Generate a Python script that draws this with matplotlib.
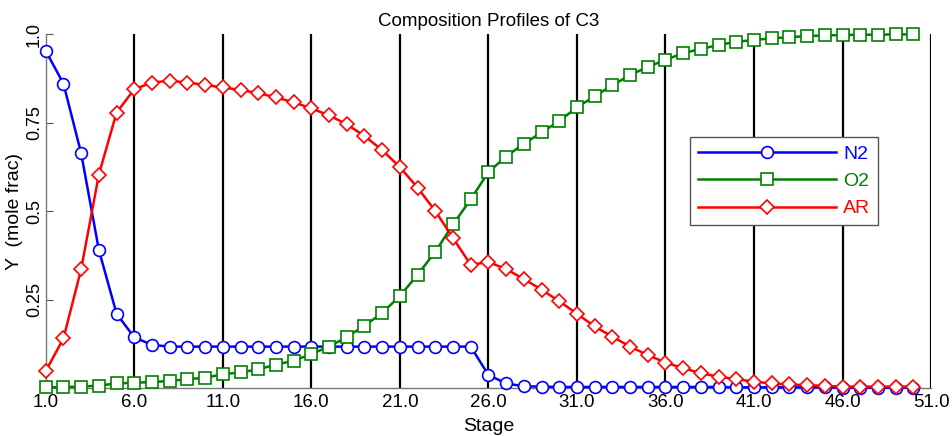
import numpy as np
import matplotlib
matplotlib.use('Agg')
import matplotlib.pyplot as plt

plt.rcParams['font.family'] = ['Liberation Sans', 'DejaVu Sans']

stages = list(range(1, 51))

n2 = [0.952, 0.86, 0.663, 0.39, 0.21, 0.143, 0.122, 0.117, 0.117, 0.117,
      0.117, 0.117, 0.117, 0.117, 0.117, 0.117, 0.117, 0.117, 0.117, 0.117,
      0.117, 0.117, 0.117, 0.117, 0.117, 0.037, 0.013, 0.005, 0.004, 0.003,
      0.003, 0.003, 0.003, 0.003, 0.003, 0.003, 0.003, 0.003, 0.003, 0.002,
      0.002, 0.002, 0.002, 0.002, 0.002, 0.001, 0.001, 0.001, 0.001, 0.001]

o2 = [0.002, 0.003, 0.004, 0.007, 0.013, 0.015, 0.017, 0.020, 0.025, 0.029,
      0.039, 0.044, 0.053, 0.066, 0.077, 0.096, 0.117, 0.144, 0.176, 0.212,
      0.26, 0.32, 0.385, 0.462, 0.533, 0.61, 0.654, 0.69, 0.722, 0.754,
      0.793, 0.824, 0.855, 0.884, 0.907, 0.927, 0.946, 0.958, 0.969, 0.978,
      0.983, 0.988, 0.991, 0.994, 0.996, 0.997, 0.998, 0.998, 0.999, 0.999]

ar = [0.048, 0.14, 0.336, 0.603, 0.778, 0.844, 0.863, 0.868, 0.863, 0.856,
      0.849, 0.842, 0.833, 0.821, 0.807, 0.79, 0.770, 0.745, 0.712, 0.672,
      0.624, 0.566, 0.500, 0.424, 0.348, 0.356, 0.336, 0.308, 0.278, 0.245,
      0.21, 0.174, 0.145, 0.117, 0.093, 0.072, 0.056, 0.042, 0.032, 0.025,
      0.018, 0.013, 0.010, 0.008, 0.006, 0.004, 0.004, 0.004, 0.004, 0.004]

xticks = [1, 6, 11, 16, 21, 26, 31, 36, 41, 46, 51]
yticks = [0.25, 0.5, 0.75, 1.0]

fig = plt.figure(figsize=(9.53, 4.36), dpi=100)
ax = fig.add_axes([0.048, 0.11, 0.929, 0.812])

# black vertical stage lines
for xv in xticks[1:]:
    ax.plot([xv, xv], [0, 1], color='black', lw=1.6, zorder=1)

mk = dict(markersize=8.5, markerfacecolor='white', markeredgewidth=1.2, lw=1.8,
          zorder=3, clip_on=False)
ax.plot(stages, n2, color='#0000ff', marker='o', label='N2', **mk)
ax.plot(stages, o2, color='#008000', marker='s', label='O2', **mk)
ax.plot(stages, ar, color='#ff0000', marker='D', label='AR',
        **{**mk, 'markersize': 7.5})

ax.set_xlim(1, 51)
ax.set_ylim(0, 1)
ax.set_xticks(xticks)
ax.set_xticklabels(['%.1f' % v for v in xticks], fontsize=13.5)
ax.set_yticks(yticks)
ax.set_yticklabels(['0.25', '0.5', '0.75', '1.0'], fontsize=13, rotation=90, va='center')
ax.tick_params(axis='x', length=0, pad=4)
ax.tick_params(axis='y', direction='in', length=5, color='#555555', pad=2)

for side in ['top', 'right']:
    ax.spines[side].set_visible(False)
for side in ['left', 'bottom']:
    ax.spines[side].set_color('#777777')
    ax.spines[side].set_linewidth(1.0)

ax.set_xlabel('Stage', fontsize=14, labelpad=5)
ax.set_ylabel('Y  (mole frac)', fontsize=14)
ax.yaxis.set_label_coords(-0.026, 0.5)
ax.set_title('Composition Profiles of C3', fontsize=13.5, pad=6)

leg = ax.legend(loc='upper left', bbox_to_anchor=(0.728, 0.708), fontsize=14,
                handlelength=7.1, fancybox=False, framealpha=1, edgecolor='#555555',
                borderpad=0.4, labelspacing=0.5, handletextpad=0.35, borderaxespad=0)
for txt, c in zip(leg.get_texts(), ['#0000ff', '#008000', '#ff0000']):
    txt.set_color(c)
leg.set_zorder(5)

fig.savefig('out.png', dpi=100)
